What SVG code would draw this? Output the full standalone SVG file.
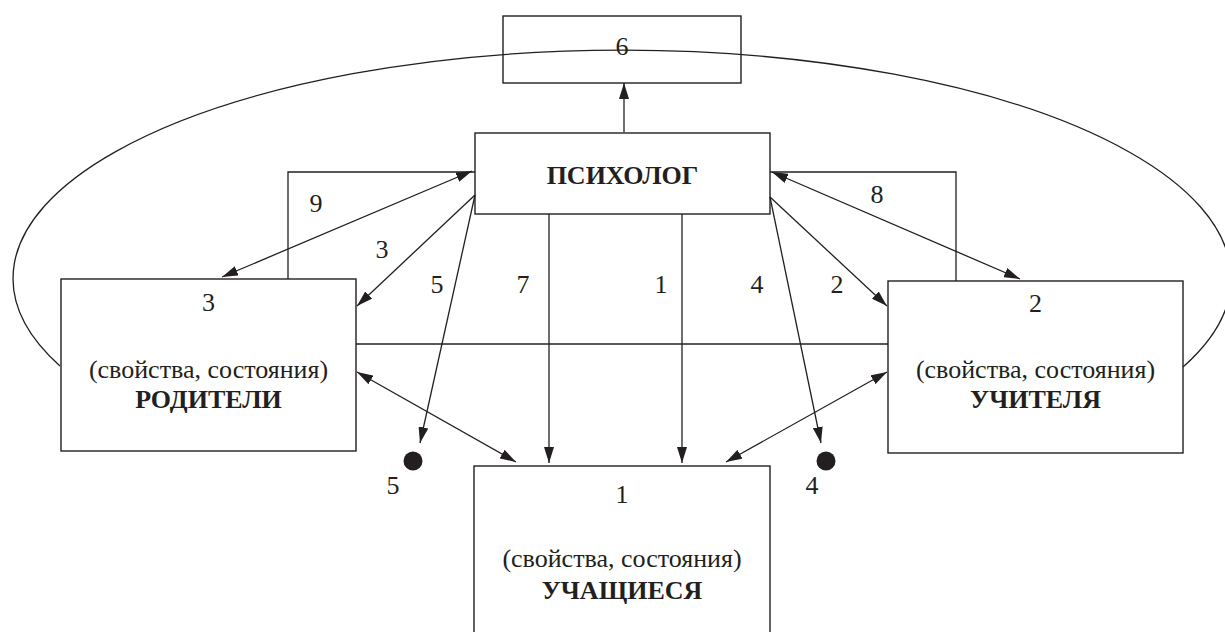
<svg xmlns="http://www.w3.org/2000/svg" width="1225" height="632" viewBox="0 0 1225 632" font-family="Liberation Serif, Times New Roman, serif" font-size="26">
<style>
.box{fill:none;stroke:#231f20;stroke-width:1.4}
.ln{fill:none;stroke:#231f20;stroke-width:1.3}
</style>
<defs>
<marker id="ah" viewBox="0 0 16 10" refX="16" refY="5" markerWidth="16" markerHeight="10" markerUnits="userSpaceOnUse" orient="auto-start-reverse">
<path d="M0,0 L16,5 L0,10 z" fill="#231f20"/>
</marker>
</defs>
<rect width="1225" height="632" fill="#fff"/>
<g id="connectors">
<path class="ln" d="M60,366 A609 228 0 1 1 1183,367"/>
<line class="ln" x1="624" y1="132" x2="624" y2="83" marker-end="url(#ah)"/>
<polyline class="ln" points="475,172 288,172 288,279"/>
<line class="ln" x1="472" y1="171" x2="222" y2="277" marker-start="url(#ah)" marker-end="url(#ah)"/>
<line class="ln" x1="475" y1="195" x2="357" y2="306" marker-end="url(#ah)"/>
<line class="ln" x1="475" y1="195" x2="420" y2="443" marker-end="url(#ah)"/>
<line class="ln" x1="549" y1="214" x2="549" y2="463" marker-end="url(#ah)"/>
<line class="ln" x1="682" y1="214" x2="682" y2="463" marker-end="url(#ah)"/>
<line class="ln" x1="770" y1="197" x2="821" y2="443" marker-end="url(#ah)"/>
<line class="ln" x1="770" y1="197" x2="887" y2="306" marker-end="url(#ah)"/>
<polyline class="ln" points="770,172 956,172 956,281"/>
<line class="ln" x1="772" y1="172" x2="1020" y2="279" marker-start="url(#ah)" marker-end="url(#ah)"/>
<line class="ln" x1="356" y1="344" x2="888" y2="344"/>
<line class="ln" x1="357" y1="372" x2="516" y2="462" marker-start="url(#ah)" marker-end="url(#ah)"/>
<line class="ln" x1="887" y1="372" x2="726" y2="462" marker-start="url(#ah)" marker-end="url(#ah)"/>
<circle cx="413" cy="461" r="9.5" fill="#231f20"/>
<circle cx="826" cy="461" r="9.5" fill="#231f20"/>
<g fill="#231f20" text-anchor="middle" font-family="Liberation Serif, Times New Roman, serif" font-size="26">
<text x="316" y="212">9</text>
<text x="382" y="258">3</text>
<text x="437" y="293">5</text>
<text x="523" y="293">7</text>
<text x="661" y="293">1</text>
<text x="757" y="293">4</text>
<text x="837" y="293">2</text>
<text x="877" y="203">8</text>
<text x="393" y="494">5</text>
<text x="812" y="494">4</text>
</g>
</g>
<g id="node6" fill="#231f20" text-anchor="middle" font-family="Liberation Serif, Times New Roman, serif" font-size="26">
<rect class="box" x="503" y="16" width="238" height="67"/>
<text x="622" y="55">6</text>
</g>
<g id="psycholog" fill="#231f20" text-anchor="middle" font-family="Liberation Serif, Times New Roman, serif" font-size="26">
<rect class="box" x="475" y="133" width="295" height="81"/>
<text font-weight="bold" x="622.5" y="184">ПСИХОЛОГ</text>
</g>
<g id="parents" fill="#231f20" text-anchor="middle" font-family="Liberation Serif, Times New Roman, serif" font-size="26">
<rect class="box" x="61" y="279" width="295" height="172"/>
<text x="208.5" y="311">3</text>
<text x="208.5" y="378">(свойства, состояния)</text>
<text font-weight="bold" x="208.5" y="408">РОДИТЕЛИ</text>
</g>
<g id="teachers" fill="#231f20" text-anchor="middle" font-family="Liberation Serif, Times New Roman, serif" font-size="26">
<rect class="box" x="888" y="281" width="295" height="172"/>
<text x="1035.5" y="312">2</text>
<text x="1035.5" y="378">(свойства, состояния)</text>
<text font-weight="bold" x="1035.5" y="408">УЧИТЕЛЯ</text>
</g>
<g id="students" fill="#231f20" text-anchor="middle" font-family="Liberation Serif, Times New Roman, serif" font-size="26">
<rect class="box" x="474" y="466" width="296" height="200"/>
<text x="622" y="503">1</text>
<text x="622" y="567">(свойства, состояния)</text>
<text font-weight="bold" x="622" y="599">УЧАЩИЕСЯ</text>
</g>
</svg>
